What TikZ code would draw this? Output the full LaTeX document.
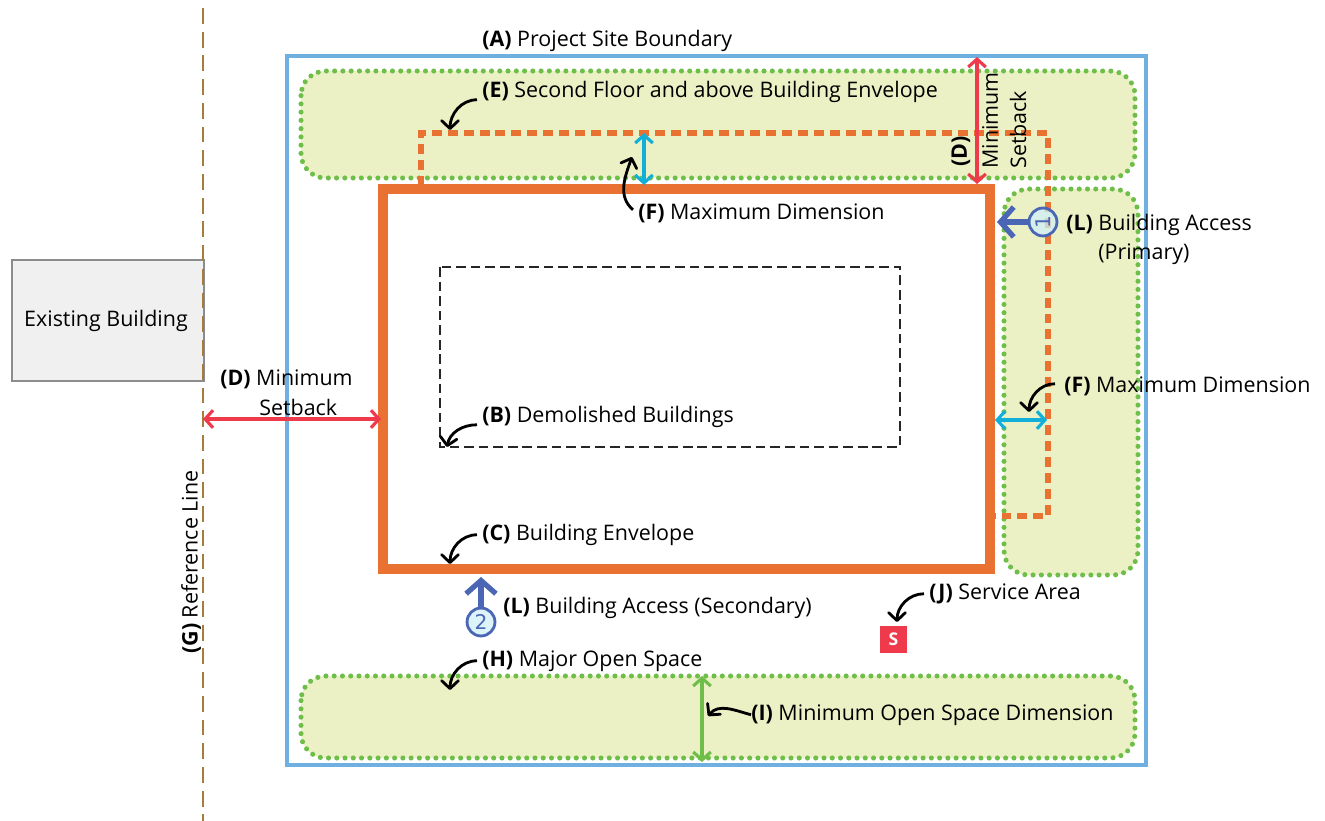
\documentclass[tikz,border=0pt]{standalone}
\usepackage{fontspec}
\setmainfont{Open Sans}
\newfontfamily\digitfont{DejaVu Sans}
\usetikzlibrary{arrows.meta}
\definecolor{sitecol}{HTML}{6FB0E0}
\definecolor{zonecol}{HTML}{EBF1C5}
\definecolor{dotcol}{HTML}{6FBE4A}
\definecolor{envcol}{HTML}{E97132}
\definecolor{redcol}{HTML}{EE3A4A}
\definecolor{cyancol}{HTML}{12AFD8}
\definecolor{accesscol}{HTML}{4A66B5}
\definecolor{refcol}{HTML}{A67C3D}
\def\lab#1#2{\textbf{(#1)} #2}
\tikzset{
	zone/.style={fill=zonecol, draw=dotcol, line width=2.9pt, line cap=round, dash pattern=on 0pt off 4.7pt, rounded corners=14pt},
	plain/.style={font=\fontsize{12.2}{14}\selectfont, inner sep=0pt, inner xsep=2.8pt, anchor=west},
	txt/.style={plain, yshift=-1pt},
	vtxt/.style={plain, rotate=90},
	leader/.style={line width=1.6pt, -{Straight Barb[length=4.5pt,width=9.5pt,round]}},
	span/.style={line width=1.8pt, {Straight Barb[length=4.5pt,width=10pt]}-{Straight Barb[length=4.5pt,width=10pt]}},
	access/.style={circle, draw=accesscol, fill=cyancol!20, fill opacity=0.75, text opacity=1, text=accesscol, line width=1.6pt, minimum size=15.9pt, inner sep=0pt, font=\fontsize{11.5}{11.5}\selectfont\digitfont},
	accessarrow/.style={accesscol, line width=3pt, -{Straight Barb[length=7.5pt,width=17pt]}}
}

\begin{document}
\begin{tikzpicture}[x=0.02cm, y=-0.02cm]
	%%%%% START %%%%%
	\useasboundingbox (0, 0) rectangle (1325, 821);

	\draw[fill=black!6, draw=black!45, line width=1.6pt] (12, 260) rectangle (204, 381);
	\node (existing) at (106, 321) [font=\fontsize{12.2}{14}\selectfont] {Existing Building};
	\draw[refcol, line width=1.5pt, dash pattern=on 9pt off 4.5pt] (203, 8) -- (203, 821);

	\draw[sitecol, line width=1.8pt] (287, 56) rectangle (1146, 765);

	\draw[zone] (301, 71) rectangle (1135, 178);
	\draw[zone] (1004, 189) rectangle (1138, 575);
	\draw[zone] (301, 676) rectangle (1135, 758);

	\draw[envcol, line width=3.4pt, dash pattern=on 5.67pt off 3.4pt] (421, 186) -- (421, 133) -- (1048, 133) -- (1048, 516) -- (995, 516);
	\draw[envcol, line width=5.67pt] (383, 189) rectangle (990, 569);
	\draw[black!85, line width=0.6pt, dash pattern=on 5.5pt off 2.8pt] (440, 267) rectangle (900, 447);

	% dimension arrows
	\coordinate (refpt) at (203, 419);
	\coordinate (envleft) at (381, 419);
	\draw[span, redcol] (refpt) -- (envleft);
	\coordinate (sitetop) at (977, 57);
	\coordinate (envtop) at (977, 184);
	\draw[span, redcol] (sitetop) -- (envtop);
	\coordinate (dashtop) at (644, 133);
	\coordinate (envtopf) at (644, 185);
	\draw[span, cyancol] (dashtop) -- (envtopf);
	\coordinate (envright) at (995, 420);
	\coordinate (dashright) at (1047, 420);
	\draw[span, cyancol] (envright) -- (dashright);
	\coordinate (spacetop) at (702, 676);
	\coordinate (spacebot) at (702, 762);
	\draw[span, dotcol] (spacetop) -- (spacebot);

	% access points
	\node[access, rotate=90] (accessone) at (1043, 222) {1};
	\coordinate (accessonetip) at (997, 222);
	\draw[accessarrow] (accessone) -- (accessonetip);
	\node[access] (accesstwo) at (481, 622) {2};
	\coordinate (accesstwotip) at (481, 577);
	\draw[accessarrow] (accesstwo) -- (accesstwotip);

	\node[fill=redcol, text=white, minimum size=15.3pt, inner sep=0pt, font=\fontsize{10}{10}\selectfont\bfseries] (service) at (893.5, 639.5) {S};

	% labels
	\node[txt] (siteA) at (477, 39) {\lab{A}{Project Site Boundary}};
	\node[txt] (floorE) at (477, 90) {\lab{E}{Second Floor and above Building Envelope}};
	\node[txt] (maxF) at (633, 212) {\lab{F}{Maximum Dimension}};
	\node[txt] (accessL) at (1061, 223) {\lab{L}{Building Access}};
	\node[txt] (primaryL) at (1093, 252) {(Primary)};
	\node[txt] (setD) at (215, 378) {\lab{D}{Minimum}};
	\node[txt] (setDb) at (254, 406) {Setback};
	\node[txt] (demoB) at (477, 415) {\lab{B}{Demolished Buildings}};
	\node[txt] (maxFb) at (1059, 385) {\lab{F}{Maximum Dimension}};
	\node[txt] (envC) at (477, 533) {\lab{C}{Building Envelope}};
	\node[txt] (accessLb) at (498, 606) {\lab{L}{Building Access (Secondary)}};
	\node[txt] (serviceJ) at (924, 592) {\lab{J}{Service Area}};
	\node[txt] (openH) at (477, 659) {\lab{H}{Major Open Space}};
	\node[txt] (openI) at (746, 713) {\lab{I}{Minimum Open Space Dimension}};
	\node[vtxt] (refG) at (191, 659) {\lab{G}{Reference Line}};
	\node[vtxt] (setDc) at (961, 172) {\textbf{(D)}};
	\node[vtxt] (setDd) at (990, 174) {Minimum};
	\node[vtxt] (setDe) at (1018, 174) {Setback};

	% leaders
	\coordinate (floortip) at (450, 130);
	\draw[leader] (floorE.west) ++(0, 8) to[out=180, in=90] (floortip);
	\coordinate (maxtip) at (632, 157);
	\draw[leader] (maxF.west) ++(0, -4) to[out=140, in=-110] (maxtip);
	\coordinate (maxbtip) at (1029, 412);
	\draw[leader] (maxFb.west) ++(-4, -3) to[out=180, in=90] (maxbtip);
	\coordinate (demotip) at (447, 447);
	\draw[leader] (demoB.west) ++(0, 8) to[out=180, in=80] (demotip);
	\coordinate (envtip) at (450, 564);
	\draw[leader] (envC.west) to[out=180, in=90] (envtip);
	\coordinate (opentip) at (450, 690);
	\draw[leader] (openH.west) to[out=180, in=90] (opentip);
	\coordinate (opentipb) at (708, 716);
	\draw[leader] (openI.west) ++(5, 0) to[out=165, in=50] (opentipb);
	\coordinate (servicetip) at (897, 622);
	\draw[leader] (serviceJ.west) to[out=180, in=90] (servicetip);
	%%%%% END %%%%%
\end{tikzpicture}
\end{document}
